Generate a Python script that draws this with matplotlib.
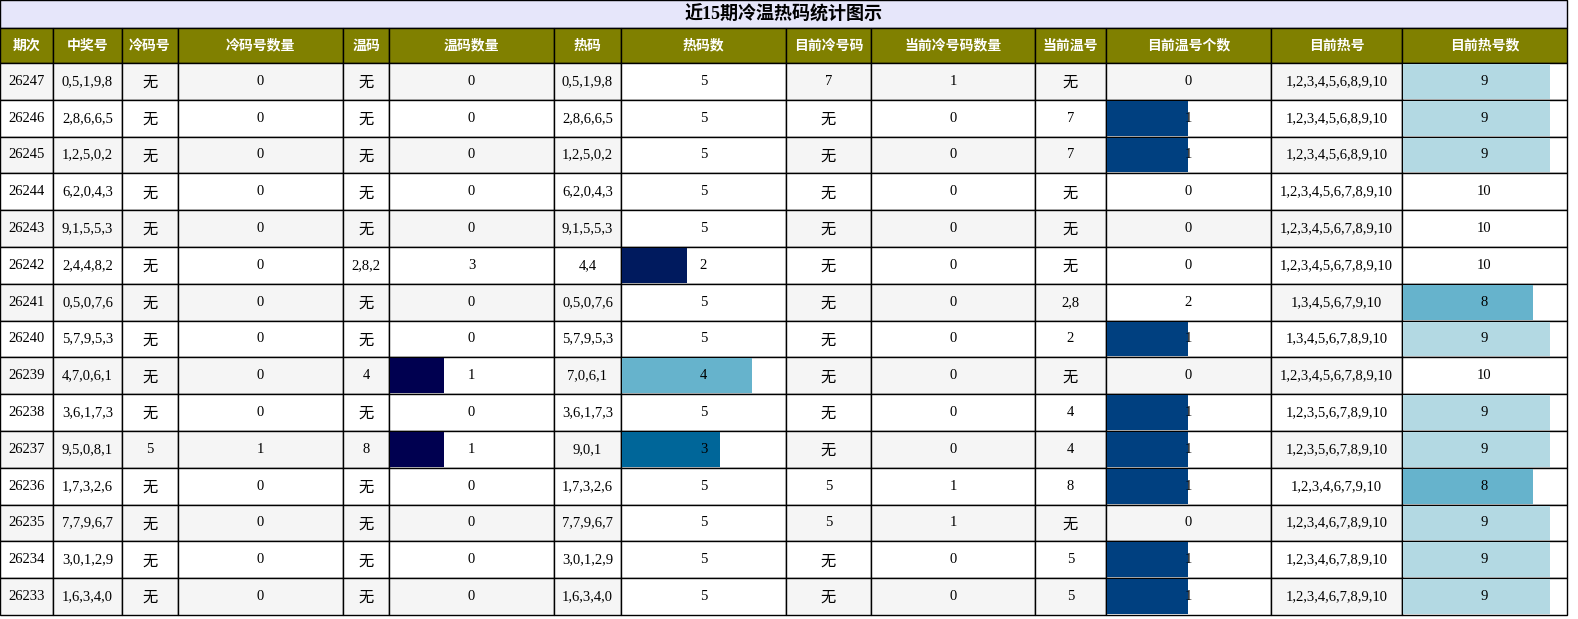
import matplotlib
matplotlib.use("Agg")
import matplotlib.pyplot as plt
from matplotlib.patches import Rectangle

title = "近15期冷温热码统计图示"
headers = ["期次","中奖号","冷码号","冷码号数量","温码","温码数量","热码","热码数",
           "目前冷号码","当前冷号码数量","当前温号","目前温号个数","目前热号","目前热号数"]
periods = ["26247","26246","26245","26244","26243","26242","26241","26240","26239","26238","26237","26236","26235","26234","26233"]
winning = ["0,5,1,9,8","2,8,6,6,5","1,2,5,0,2","6,2,0,4,3","9,1,5,5,3","2,4,4,8,2","0,5,0,7,6","5,7,9,5,3","4,7,0,6,1","3,6,1,7,3","9,5,0,8,1","1,7,3,2,6","7,7,9,6,7","3,0,1,2,9","1,6,3,4,0"]
cold = ["无"]*10 + ["5"] + ["无"]*4
cold_n = [0]*10 + [1] + [0]*4
warm = ["无","无","无","无","无","2,8,2","无","无","4","无","8","无","无","无","无"]
warm_n = [0,0,0,0,0,3,0,0,1,0,1,0,0,0,0]
hot = ["0,5,1,9,8","2,8,6,6,5","1,2,5,0,2","6,2,0,4,3","9,1,5,5,3","4,4","0,5,0,7,6","5,7,9,5,3","7,0,6,1","3,6,1,7,3","9,0,1","1,7,3,2,6","7,7,9,6,7","3,0,1,2,9","1,6,3,4,0"]
hot_n = [5,5,5,5,5,2,5,5,4,5,3,5,5,5,5]
cur_cold = ["7","无","无","无","无","无","无","无","无","无","无","5","5","无","无"]
cur_cold_n = [1,0,0,0,0,0,0,0,0,0,0,1,1,0,0]
cur_warm = ["无","7","7","无","无","无","2,8","2","无","4","4","8","无","5","5"]
cur_warm_n = [0,1,1,0,0,0,2,1,0,1,1,1,0,1,1]
cur_hot = ["1,2,3,4,5,6,8,9,10","1,2,3,4,5,6,8,9,10","1,2,3,4,5,6,8,9,10","1,2,3,4,5,6,7,8,9,10","1,2,3,4,5,6,7,8,9,10","1,2,3,4,5,6,7,8,9,10","1,3,4,5,6,7,9,10","1,3,4,5,6,7,8,9,10","1,2,3,4,5,6,7,8,9,10","1,2,3,5,6,7,8,9,10","1,2,3,5,6,7,8,9,10","1,2,3,4,6,7,9,10","1,2,3,4,6,7,8,9,10","1,2,3,4,6,7,8,9,10","1,2,3,4,6,7,8,9,10"]
cur_hot_n = [9,9,9,10,10,10,8,9,10,9,9,8,9,9,9]

columns = [periods, winning, cold, cold_n, warm, warm_n, hot, hot_n,
           cur_cold, cur_cold_n, cur_warm, cur_warm_n, cur_hot, cur_hot_n]
# bar columns: index -> (max, colour map)
bar_cols = {5: (3, {1: "#000050"}),
            7: (5, {2: "#001a5e", 3: "#006699", 4: "#66b3cc"}),
            11: (2, {1: "#004080"}),
            13: (10, {9: "#b3d9e3", 8: "#66b3cc"})}

edges = [0,53,122,178,343,389,554,621,786,871,1035,1106,1271,1402,1567]
title_h, head_h, row_h = 28, 35, 36.8
fam = ["Liberation Serif", "Noto Sans CJK SC", "DejaVu Sans"]
cjk = ["Noto Sans CJK SC", "DejaVu Sans"]

fig = plt.figure(figsize=(15.78, 6.19), dpi=100)
ax = fig.add_axes([0, 0, 1, 1])
ax.set_xlim(0, 1578); ax.set_ylim(619, 0); ax.axis("off")

W = edges[-1]
ax.add_patch(Rectangle((0, 0), W, title_h, fc="#e6e6fa", ec="black", lw=1))
ax.text(W/2, title_h/2, title, ha="center", va="center", fontsize=13, fontweight="bold", family=["Liberation Serif","Noto Sans CJK SC"])
for j, h in enumerate(headers):
    x0, x1 = edges[j], edges[j+1]
    ax.add_patch(Rectangle((x0, title_h), x1-x0, head_h, fc="#808000", ec="black", lw=1))
    ax.text((x0+x1)/2, title_h+head_h/2, h, ha="center", va="center", color="white",
            fontsize=10, fontweight="bold", family=cjk)

y0 = title_h + head_h
for i in range(len(periods)):
    y = y0 + i*row_h
    stripe = "#f5f5f5" if i % 2 == 0 else "white"
    for j, col in enumerate(columns):
        x0, x1 = edges[j], edges[j+1]
        v = col[i]
        bg = stripe
        if j in bar_cols and v > 0:
            bg = "white"
        ax.add_patch(Rectangle((x0, y), x1-x0, row_h, fc=bg, ec="black", lw=1))
        if j in bar_cols:
            mx, cmap = bar_cols[j]
            if 0 < v < mx:
                ax.add_patch(Rectangle((x0+1, y+1), (x1-x0-2)*v/mx, row_h-2,
                                       fc=cmap.get(v, "#66b3cc"), ec="none"))
        s = str(v)
        if s == "无":
            ax.text((x0+x1)/2, y+row_h/2+1, s, ha="center", va="center", fontsize=11, family=cjk)
        else:
            ax.text((x0+x1)/2, y+row_h/2, s, ha="center", va="center", fontsize=10.5, family=fam)

fig.savefig("out.png", dpi=100)
